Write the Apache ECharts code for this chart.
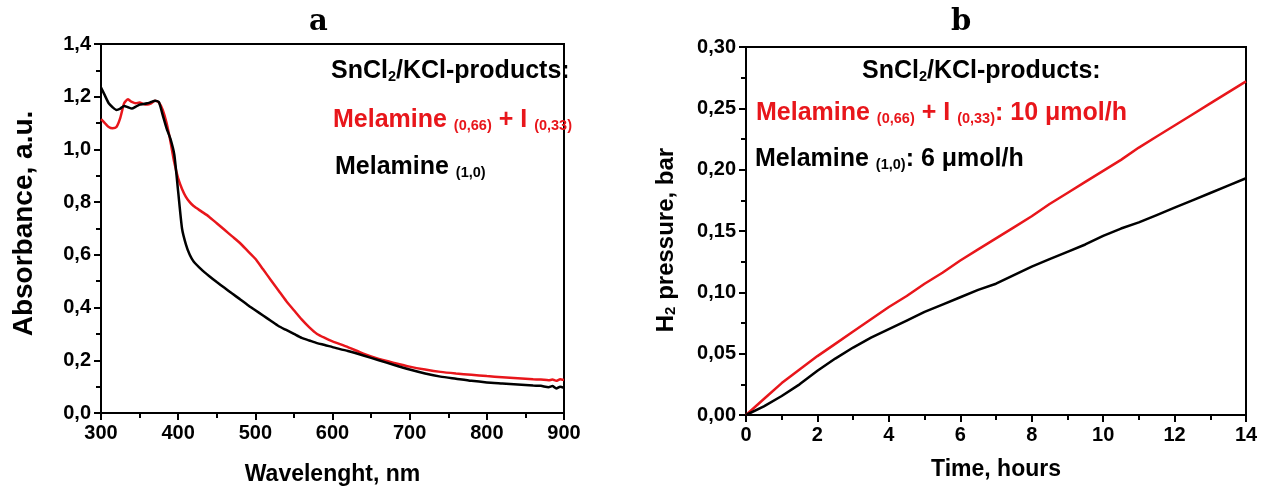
<!DOCTYPE html>
<html>
<head>
<meta charset="utf-8">
<script src="https://cdn.jsdelivr.net/npm/echarts@6/dist/echarts.min.js"></script>
<style>
  html, body { margin: 0; padding: 0; background: #fff; }
  #chart { width: 1261px; height: 491px; }
</style>
</head>
<body>
<div id="chart"></div>
<script>
// ---- Panel a: UV-Vis absorbance spectra ----
const wavelengths = [300, 305, 310, 315, 320, 325, 330, 335, 340, 345, 350, 355, 360, 365, 370, 375, 380, 385, 390, 395,
  400, 405, 410, 415, 420, 430, 440, 450, 460, 470, 480, 490, 500, 510, 520, 530, 540, 550, 560, 570, 580, 590, 600,
  620, 640, 660, 680, 700, 720, 740, 760, 780, 800, 820, 840, 860, 870, 880, 885, 890, 895, 900];
const absMelamineI = [1.115, 1.10, 1.085, 1.08, 1.085, 1.12, 1.175, 1.19, 1.18, 1.175, 1.178, 1.172, 1.17, 1.175, 1.185, 1.178, 1.15, 1.10, 1.03, 0.95,
  0.89, 0.85, 0.82, 0.80, 0.785, 0.765, 0.745, 0.72, 0.695, 0.67, 0.645, 0.615, 0.585, 0.545, 0.505, 0.465, 0.425, 0.39, 0.355, 0.325, 0.30, 0.285, 0.272,
  0.25, 0.225, 0.205, 0.19, 0.176, 0.165, 0.156, 0.15, 0.145, 0.14, 0.136, 0.132, 0.128, 0.127, 0.124, 0.127, 0.122, 0.128, 0.125];
const absMelamine = [1.235, 1.205, 1.175, 1.16, 1.15, 1.155, 1.165, 1.16, 1.155, 1.162, 1.17, 1.172, 1.175, 1.18, 1.185, 1.18, 1.13, 1.08, 1.04, 0.98,
  0.84, 0.70, 0.64, 0.60, 0.575, 0.545, 0.52, 0.497, 0.475, 0.453, 0.432, 0.41, 0.39, 0.37, 0.35, 0.33, 0.315, 0.30, 0.285, 0.275, 0.265, 0.258, 0.25,
  0.235, 0.218, 0.20, 0.182, 0.165, 0.15, 0.138, 0.13, 0.122, 0.116, 0.112, 0.108, 0.104, 0.103, 0.098, 0.102, 0.093, 0.10, 0.095];

// ---- Panel b: H2 evolution ----
const hours = [0, 0.5, 1, 1.5, 2, 2.5, 3, 3.5, 4, 4.5, 5, 5.5, 6, 6.5, 7, 7.5, 8, 8.5, 9, 9.5, 10, 10.5, 11, 11.5, 12, 12.5, 13, 13.5, 14];
const h2MelamineI = [0, 0.013, 0.026, 0.037, 0.048, 0.058, 0.068, 0.078, 0.088, 0.097, 0.107, 0.116, 0.126, 0.135, 0.144, 0.153,
  0.162, 0.172, 0.181, 0.19, 0.199, 0.208, 0.218, 0.227, 0.236, 0.245, 0.254, 0.263, 0.272];
const h2Melamine = [0, 0.007, 0.0155, 0.025, 0.036, 0.046, 0.055, 0.063, 0.070, 0.077, 0.084, 0.090, 0.096, 0.102, 0.107, 0.114,
  0.121, 0.127, 0.133, 0.139, 0.146, 0.152, 0.157, 0.163, 0.169, 0.175, 0.181, 0.187, 0.193];

// Tick settings
const wlTicks = { min: 300, max: 900, interval: 100 };
const absTicks = { min: 0, max: 1.4, interval: 0.2 };
const timeTicks = { min: 0, max: 14, interval: 2 };
const pressTicks = { min: 0, max: 0.30, interval: 0.05 };

const RED = '#e8161b';
const FONT = '"Liberation Sans", Arial, sans-serif';

function pairs(xs, ys) { return xs.map((x, i) => [x, ys[i]]); }
function comma(v, d) { return v.toFixed(d).replace('.', ','); }

function axisBase(gridIndex) {
  return {
    type: 'value',
    gridIndex: gridIndex,
    axisLine: { show: true, onZero: false, lineStyle: { color: '#000', width: 2 } },
    axisTick: { show: true, inside: false, length: 7, lineStyle: { color: '#000', width: 2 } },
    minorTick: { show: true, splitNumber: 2, length: 5, lineStyle: { color: '#000', width: 2 } },
    splitLine: { show: false },
    minorSplitLine: { show: false },
    axisLabel: { color: '#000', fontSize: 20, fontWeight: 'bold', fontFamily: FONT, margin: 10, showMinLabel: true, showMaxLabel: true },
    nameLocation: 'middle',
    nameTextStyle: { color: '#000', fontSize: 23, fontWeight: 'bold', fontFamily: FONT }
  };
}

const legendRich = {
  n: { fontSize: 25, fontWeight: 'bold', fontFamily: FONT, lineHeight: 28, verticalAlign: 'bottom' },
  s: { fontSize: 14.5, fontWeight: 'bold', fontFamily: FONT, lineHeight: 21, verticalAlign: 'bottom' }
};

function legendText(x, y, text, color) {
  const rich = {};
  Object.keys(legendRich).forEach(k => { rich[k] = Object.assign({}, legendRich[k], { fill: color }); });
  return {
    type: 'text', left: x, top: y,
    style: { text: text, rich: rich, fill: color, align: 'left', verticalAlign: 'top' }
  };
}

const chart = echarts.init(document.getElementById('chart'), null, { renderer: 'canvas' });

chart.setOption({
  backgroundColor: '#fff',
  animation: false,
  grid: [
    { left: 101, top: 44, width: 463, height: 369, show: true, borderColor: '#000', borderWidth: 2, backgroundColor: 'transparent' },
    { left: 746, top: 47, width: 500, height: 368, show: true, borderColor: '#000', borderWidth: 2, backgroundColor: 'transparent' }
  ],
  xAxis: [
    Object.assign(axisBase(0), wlTicks, { name: 'Wavelenght, nm', nameGap: 50 }),
    Object.assign(axisBase(1), timeTicks, { name: 'Time, hours', nameGap: 43 })
  ],
  yAxis: [
    Object.assign(axisBase(0), absTicks, {
      name: 'Absorbance, a.u.', nameGap: 63, nameRotate: 90,
      nameTextStyle: { color: '#000', fontSize: 28, fontWeight: 'bold', fontFamily: FONT, padding: [0, 0, 0, 10] },
      axisLabel: Object.assign(axisBase(0).axisLabel, { formatter: v => comma(v, 1) })
    }),
    Object.assign(axisBase(1), pressTicks, {
      name: '{n|H}{s|2}{n| pressure, bar}', nameGap: 68, nameRotate: 90,
      nameTextStyle: {
        color: '#000', fontFamily: FONT, fontWeight: 'bold', padding: [0, 18, 0, 0],
        rich: {
          n: { fontSize: 24, fontWeight: 'bold', fontFamily: FONT, color: '#000', lineHeight: 30, verticalAlign: 'bottom' },
          s: { fontSize: 15, fontWeight: 'bold', fontFamily: FONT, color: '#000', lineHeight: 20, verticalAlign: 'bottom' }
        }
      },
      axisLabel: Object.assign(axisBase(1).axisLabel, { formatter: v => comma(v, 2) })
    })
  ],
  series: [
    { type: 'line', name: 'Melamine (0,66) + I (0,33)', xAxisIndex: 0, yAxisIndex: 0, data: pairs(wavelengths, absMelamineI),
      showSymbol: false, smooth: 0.2, lineStyle: { color: RED, width: 2.5 }, itemStyle: { color: RED } },
    { type: 'line', name: 'Melamine (1,0)', xAxisIndex: 0, yAxisIndex: 0, data: pairs(wavelengths, absMelamine),
      showSymbol: false, smooth: 0.2, lineStyle: { color: '#000', width: 2.5 }, itemStyle: { color: '#000' } },
    { type: 'line', name: 'Melamine (0,66) + I (0,33): 10 μmol/h', xAxisIndex: 1, yAxisIndex: 1, data: pairs(hours, h2MelamineI),
      showSymbol: false, lineStyle: { color: RED, width: 2.5 }, itemStyle: { color: RED } },
    { type: 'line', name: 'Melamine (1,0): 6 μmol/h', xAxisIndex: 1, yAxisIndex: 1, data: pairs(hours, h2Melamine),
      showSymbol: false, lineStyle: { color: '#000', width: 2.5 }, itemStyle: { color: '#000' } }
  ],
  graphic: [
    { type: 'text', left: 309, top: 8,
      style: { text: 'a', fill: '#000', font: 'bold 29px "DejaVu Serif", serif' } },
    { type: 'text', left: 951, top: 8,
      style: { text: 'b', fill: '#000', font: 'bold 29px "DejaVu Serif", serif' } },
    legendText(331, 59, '{n|SnCl}{s|2}{n|/KCl-products:}', '#000'),
    legendText(333, 108, '{n|Melamine }{s|(0,66)}{n| + I }{s|(0,33)}', RED),
    legendText(335, 155, '{n|Melamine }{s|(1,0)}', '#000'),
    legendText(862, 59, '{n|SnCl}{s|2}{n|/KCl-products:}', '#000'),
    legendText(756, 101, '{n|Melamine }{s|(0,66)}{n| + I }{s|(0,33)}{n|: 10 μmol/h}', RED),
    legendText(755, 147, '{n|Melamine }{s|(1,0)}{n|: 6 μmol/h}', '#000')
  ]
});
</script>
</body>
</html>
